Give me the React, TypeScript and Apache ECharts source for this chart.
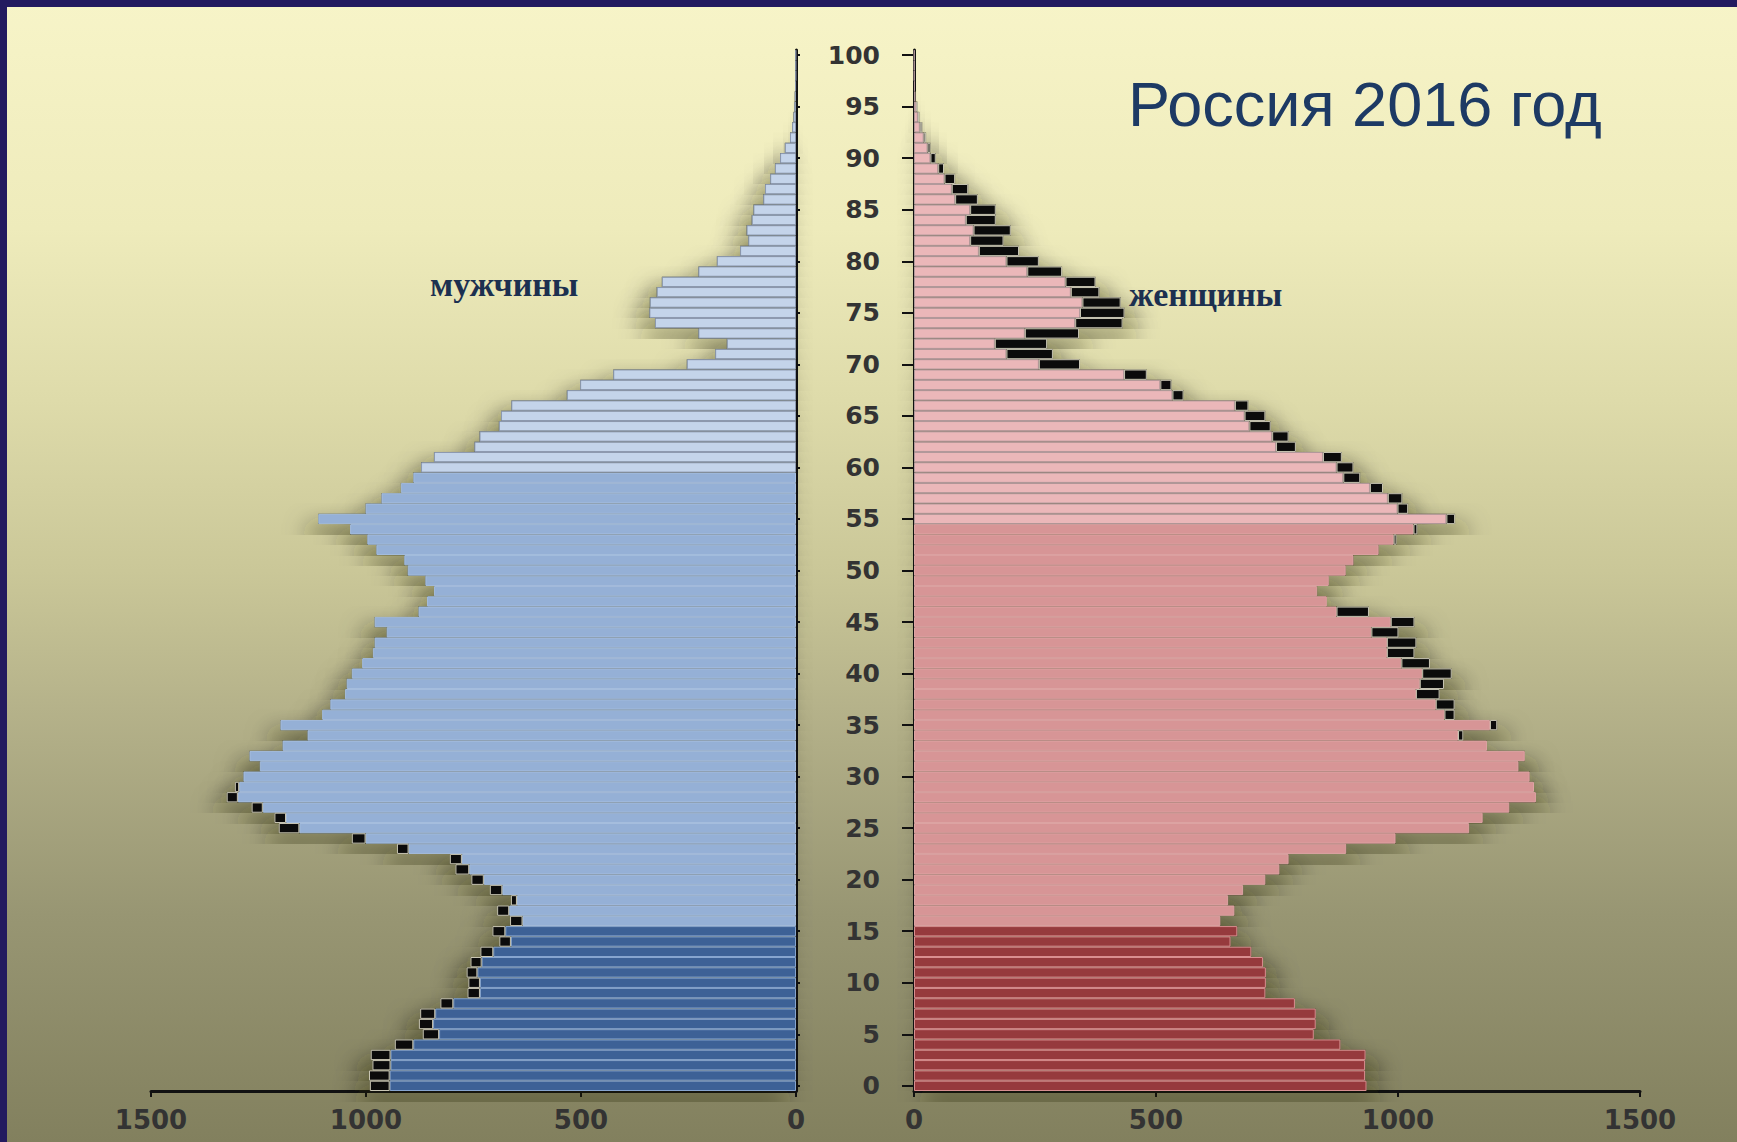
import React, { useEffect, useRef } from "react";
import * as echarts from "echarts";

// Age categories 0..100 (one bar per single year of age)
const ages: string[] = Array.from({ length: 101 }, (_, i) => String(i));

// Tick values of the two population axes (thousands)
const popTicks = [0, 500, 1000, 1500];

// Male population, common part (blue bars), thousands
const maleBase = [
  945, 945, 943, 943, 890, 830, 844, 839, 797, 735,
  735, 741, 731, 704, 663, 676, 636, 667, 649, 683,
  726, 760, 777, 901, 1001, 1155, 1186, 1240, 1298, 1295,
  1285, 1247, 1271, 1194, 1136, 1199, 1102, 1083, 1049, 1045,
  1033, 1009, 984, 980, 952, 980, 878, 858, 842, 862,
  903, 911, 976, 997, 1037, 1111, 1001, 964, 919, 890,
  872, 842, 748, 736, 691, 686, 662, 533, 502, 425,
  254, 188, 161, 227, 328, 341, 340, 324, 312, 227,
  184, 130, 111, 115, 103, 99, 76, 72, 60, 49,
  37, 26, 14, 9, 6, 4, 3, 2, 1, 1, 1,
];

// Male excess over females (black marks), thousands
const maleExcess = [
  46, 48, 42, 46, 43, 38, 33, 35, 30, 29,
  27, 25, 26, 30, 27, 30, 29, 28, 14, 29,
  29, 32, 28, 27, 32, 48, 27, 26, 26, 10,
  0, 0, 0, 0, 0, 0, 0, 0, 0, 0,
  0, 0, 0, 0, 0, 0, 0, 0, 0, 0,
  0, 0, 0, 0, 0, 0, 0, 0, 0, 0,
  0, 0, 0, 0, 0, 0, 0, 0, 0, 0,
  0, 0, 0, 0, 0, 0, 0, 0, 0, 0,
  0, 0, 0, 0, 0, 0, 0, 0, 0, 0,
  0, 0, 0, 0, 0, 0, 0, 0, 0, 0, 0,
];

// Female population, common part (pink bars), thousands
const femaleBase = [
  935, 932, 932, 933, 881, 826, 830, 830, 787, 726,
  727, 727, 721, 697, 654, 668, 633, 662, 649, 680,
  726, 755, 774, 893, 995, 1147, 1175, 1230, 1285, 1281,
  1272, 1249, 1262, 1184, 1124, 1190, 1096, 1078, 1037, 1045,
  1050, 1007, 977, 977, 945, 985, 873, 853, 833, 857,
  892, 908, 960, 991, 1032, 1100, 999, 979, 942, 887,
  873, 845, 748, 740, 693, 683, 663, 534, 509, 434,
  258, 191, 167, 229, 333, 343, 348, 324, 313, 234,
  191, 134, 116, 123, 107, 116, 85, 78, 63, 50,
  34, 28, 20, 12, 8, 5, 3, 2, 1, 1, 1,
];

// Female excess over males (black marks), thousands
const femaleExcess = [
  0, 0, 0, 0, 0, 0, 0, 0, 0, 0,
  0, 0, 0, 0, 0, 0, 0, 0, 0, 0,
  0, 0, 0, 0, 0, 0, 0, 0, 0, 0,
  0, 0, 0, 0, 11, 15, 21, 39, 49, 50,
  61, 59, 57, 61, 56, 49, 67, 0, 0, 0,
  0, 0, 0, 6, 8, 18, 22, 30, 27, 35,
  35, 39, 41, 34, 44, 43, 28, 23, 23, 47,
  85, 96, 108, 112, 98, 92, 79, 59, 62, 72,
  67, 83, 69, 77, 62, 53, 47, 34, 22, 12,
  11, 6, 5, 5, 3, 2, 0, 0, 0, 0, 0,
];

const TEXT_FONT = "DejaVu Sans";

function maleStyle(age: number) {
  if (age <= 15) return { color: "#3d6196", borderColor: "#87a5cf" };
  if (age <= 59) return { color: "#95b0d6", borderColor: "#a6bedf" };
  return { color: "#c4d4ea", borderColor: "#8d9ab0" };
}
function femaleStyle(age: number) {
  if (age <= 15) return { color: "#963a3d", borderColor: "#d98f90" };
  if (age <= 54) return { color: "#d79596", borderColor: "#dea4a4" };
  return { color: "#ebb7b9", borderColor: "#b39a9c" };
}

const blackStyle = { color: "#0b0b0b", borderColor: "#c9c6b4", borderWidth: 1 };

export default function App() {
  const ref = useRef<HTMLDivElement>(null);

  useEffect(() => {
    if (!ref.current) return;
    const chart = echarts.init(ref.current, null, { renderer: "svg" });

    const maleTotal = maleBase.map((v, i) => v + maleExcess[i]);
    const femaleTotal = femaleBase.map((v, i) => v + femaleExcess[i]);

    const maleBaseData = maleBase.map((v, i) => ({
      value: v,
      itemStyle: { ...maleStyle(i), borderWidth: 1 },
    }));
    const femaleBaseData = femaleBase.map((v, i) => ({
      value: v,
      itemStyle: { ...femaleStyle(i), borderWidth: 1 },
    }));
    const maleExcessData = maleExcess.map((v) => (v > 0 ? v : "-"));
    const femaleExcessData = femaleExcess.map((v) => (v > 0 ? v : "-"));

    const axisLineStyle = { color: "#111", width: 3 };
    const popAxisCommon = {
      type: "value" as const,
      min: popTicks[0],
      max: popTicks[popTicks.length - 1],
      interval: popTicks[1] - popTicks[0],
      splitLine: { show: false },
      axisLine: { show: true, lineStyle: axisLineStyle },
      axisTick: { show: true, length: 6, lineStyle: { color: "#111", width: 2 } },
      axisLabel: {
        margin: 16,
        fontSize: 26,
        fontFamily: TEXT_FONT,
        fontWeight: "bold",
        color: "#333",
        formatter: (v: number) => String(v),
      },
    };

    const shadowCommon = {
      type: "bar" as const,
      silent: true,
      z: 1,
      barGap: "-100%",
      barCategoryGap: 0,
    };

    const option: any = {
      animation: false,
      backgroundColor: new echarts.graphic.LinearGradient(0, 0, 0, 1, [
        { offset: 0, color: "#f7f4c8" },
        { offset: 0.2, color: "#eeebbb" },
        { offset: 0.35, color: "#dedbaa" },
        { offset: 0.5, color: "#cac798" },
        { offset: 0.62, color: "#b5b28a" },
        { offset: 0.8, color: "#989673" },
        { offset: 1, color: "#82805e" },
      ]),
      grid: [
        { left: 151, right: 941, top: 50, bottom: 51 },
        { left: 914, right: 97, top: 50, bottom: 51 },
      ],
      xAxis: [
        { ...popAxisCommon, gridIndex: 0, inverse: true },
        { ...popAxisCommon, gridIndex: 1 },
      ],
      yAxis: [
        {
          type: "category",
          gridIndex: 0,
          data: ages,
          position: "right",
          axisLine: { show: true, onZero: false, lineStyle: axisLineStyle },
          axisTick: {
            show: true,
            interval: 4,
            alignWithLabel: true,
            length: 4,
            lineStyle: { color: "#111", width: 2 },
          },
          axisLabel: { show: false },
          splitLine: { show: false },
        },
        {
          type: "category",
          gridIndex: 1,
          data: ages,
          position: "left",
          axisLine: { show: true, onZero: false, lineStyle: axisLineStyle },
          axisTick: {
            show: true,
            interval: 4,
            alignWithLabel: true,
            length: 12,
            lineStyle: { color: "#111", width: 2 },
          },
          axisLabel: {
            interval: 4,
            margin: 34,
            fontSize: 25,
            fontFamily: TEXT_FONT,
            fontWeight: "bold",
            color: "#333",
          },
          splitLine: { show: false },
        },
      ],
      series: [
        {
          ...shadowCommon,
          name: "male-shadow",
          xAxisIndex: 0,
          yAxisIndex: 0,
          data: maleTotal,
          itemStyle: {
            color: "#4a4a30",
            shadowBlur: 24,
            shadowColor: "rgba(40,40,10,0.78)",
            shadowOffsetX: -10,
            shadowOffsetY: 14,
          },
        },
        {
          type: "bar",
          name: "мужчины",
          xAxisIndex: 0,
          yAxisIndex: 0,
          stack: "male",
          z: 3,
          barGap: "-100%",
          barCategoryGap: 0,
          data: maleBaseData,
        },
        {
          type: "bar",
          name: "мужчины избыток",
          xAxisIndex: 0,
          yAxisIndex: 0,
          stack: "male",
          z: 3,
          barGap: "-100%",
          barCategoryGap: 0,
          itemStyle: blackStyle,
          data: maleExcessData,
        },
        {
          ...shadowCommon,
          name: "female-shadow",
          xAxisIndex: 1,
          yAxisIndex: 1,
          data: femaleTotal,
          itemStyle: {
            color: "#4a4a30",
            shadowBlur: 24,
            shadowColor: "rgba(40,40,10,0.78)",
            shadowOffsetX: 10,
            shadowOffsetY: 14,
          },
        },
        {
          type: "bar",
          name: "женщины",
          xAxisIndex: 1,
          yAxisIndex: 1,
          stack: "female",
          z: 3,
          barGap: "-100%",
          barCategoryGap: 0,
          data: femaleBaseData,
        },
        {
          type: "bar",
          name: "женщины избыток",
          xAxisIndex: 1,
          yAxisIndex: 1,
          stack: "female",
          z: 3,
          barGap: "-100%",
          barCategoryGap: 0,
          itemStyle: blackStyle,
          data: femaleExcessData,
        },
      ],
      graphic: [
        { type: "rect", z: 100, shape: { x: 0, y: 0, width: 1737, height: 7 }, style: { fill: "#231a5f" } },
        { type: "rect", z: 100, shape: { x: 0, y: 0, width: 7, height: 1142 }, style: { fill: "#231a5f" } },
        {
          type: "text",
          z: 100,
          x: 1128,
          y: 104,
          style: {
            text: "Россия 2016 год",
            font: '63px "Liberation Sans"',
            fill: "#1d3a64",
            verticalAlign: "middle",
          },
        },
        {
          type: "text",
          z: 100,
          x: 430,
          y: 284,
          style: {
            text: "мужчины",
            font: 'bold 34px "Liberation Serif"',
            fill: "#1c3050",
            verticalAlign: "middle",
          },
        },
        {
          type: "text",
          z: 100,
          x: 1129,
          y: 294,
          style: {
            text: "женщины",
            font: 'bold 34px "Liberation Serif"',
            fill: "#1c3050",
            verticalAlign: "middle",
          },
        },
      ],
    };

    chart.setOption(option);
    return () => chart.dispose();
  }, []);

  return (
    <div
      ref={ref}
      style={{ position: "absolute", left: 0, top: 0, width: 1737, height: 1142 }}
    />
  );
}
